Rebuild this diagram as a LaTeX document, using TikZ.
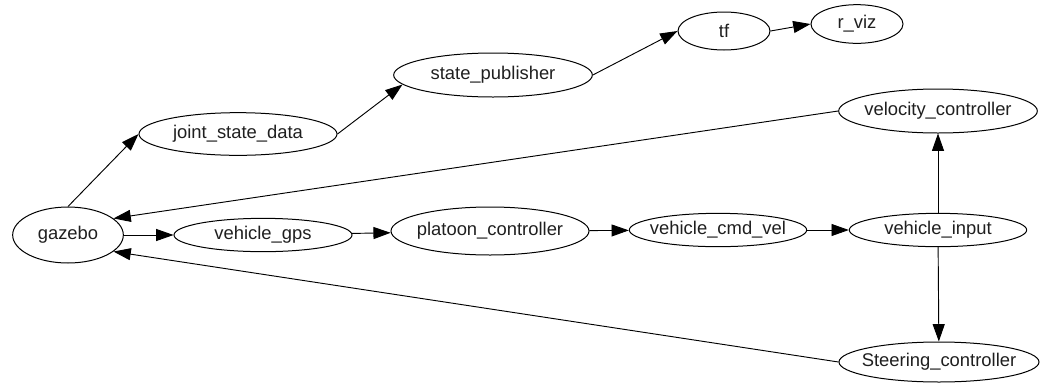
\documentclass[tikz,border=0pt]{standalone}
\usepackage{fontspec}
\setmainfont{Liberation Sans}
\usetikzlibrary{positioning, shapes.geometric, arrows.meta}

\begin{document}
\begin{tikzpicture}[x=0.75pt, y=-0.75pt,
        topic/.style={draw, ellipse, inner xsep=-6pt, inner ysep=0pt, line width=0.75pt, text=black!88, font=\fontsize{13.8}{16}\selectfont},
        link/.style={-{Triangle[length=13pt, width=9pt]}, line width=0.7pt}]
            \useasboundingbox (0,0) rectangle (1047,383);
            \node[topic, minimum width=83pt, minimum height=42pt] (gazebo) at (68,235) {gazebo};
            \node[topic, minimum width=148.5pt, minimum height=32pt] (jsd) at (238,134) {joint\_state\_data};
            \node[topic, minimum width=149pt, minimum height=33pt] (sp) at (493,75) {state\_publisher};
            \node[topic, minimum width=69pt, minimum height=28.5pt] (tf) at (724,31) {tf};
            \node[topic, minimum width=69pt, minimum height=29pt] (rviz) at (857,24) {r\_viz};
            \node[topic, minimum width=149pt, minimum height=33pt] (vc) at (938,111) {velocity\_controller};
            \node[topic, minimum width=133.5pt, minimum height=25pt] (gps) at (263,235) {vehicle\_gps};
            \node[topic, minimum width=148.5pt, minimum height=36pt] (pc) at (490,231) {platoon\_controller};
            \node[topic, minimum width=133pt, minimum height=25pt] (cmd) at (718,230) {vehicle\_cmd\_vel};
            \node[topic, minimum width=133pt, minimum height=25pt] (input) at (938,230) {vehicle\_input};
            \node[topic, minimum width=150pt, minimum height=30pt] (sc) at (939,362) {Steering\_controller};
            \draw[link] (gazebo.north) -- (jsd.west);
            \draw[link] (jsd.east) -- (sp.186);
            \draw[link] (sp.east) -- (tf.west);
            \draw[link] (tf.east) -- (rviz.west);
            \draw[link] (vc.west) -- (gazebo.20);
            \draw[link] (gazebo) -- (gps);
            \draw[link] (gps) -- (pc);
            \draw[link] (pc) -- (cmd);
            \draw[link] (cmd) -- (input);
            \draw[link] (input) -- (vc);
            \draw[link] (input) -- (sc);
            \draw[link] (sc.west) -- (gazebo.-20);
        \end{tikzpicture}
\end{document}
